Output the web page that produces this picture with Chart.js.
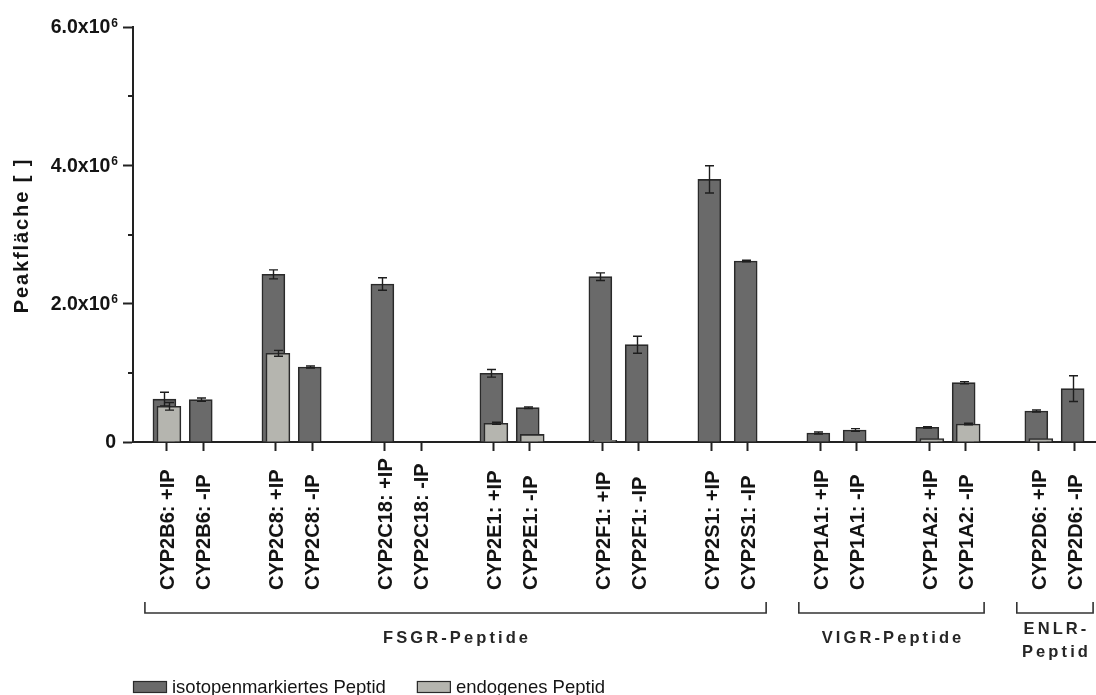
<!DOCTYPE html>
<html>
<head>
<meta charset="utf-8">
<script src="https://cdn.jsdelivr.net/npm/chart.js@4/dist/chart.umd.min.js"></script>
<style>
  html, body { margin: 0; padding: 0; background: #ffffff; }
  #wrap { position: relative; width: 1096px; height: 695px; }
</style>
</head>
<body>
<div id="wrap"><canvas id="chart"></canvas></div>
<script>
// Peak areas per cytochrome, with (+IP) and without (-IP) immunoprecipitation
const categories = [
  'CYP2B6: +IP', 'CYP2B6: -IP', 'CYP2C8: +IP', 'CYP2C8: -IP',
  'CYP2C18: +IP', 'CYP2C18: -IP', 'CYP2E1: +IP', 'CYP2E1: -IP',
  'CYP2F1: +IP', 'CYP2F1: -IP', 'CYP2S1: +IP', 'CYP2S1: -IP',
  'CYP1A1: +IP', 'CYP1A1: -IP', 'CYP1A2: +IP', 'CYP1A2: -IP',
  'CYP2D6: +IP', 'CYP2D6: -IP'
];
const isotopeValues = [620000, 612000, 2424000, 1084000, 2284000, null, 993000, 496000,
  2390000, 1407000, 3797000, 2617000, 130000, 173000, 212000, 858000, 448000, 771000];
const isotopeErrors = [100000, 25000, 65000, 15000, 90000, null, 55000, 12000,
  55000, 123000, 197000, 10000, 15000, 20000, 10000, 15000, 15000, 186000];
const endogenousValues = [516000, null, 1282000, null, null, null, 270000, 110000,
  25000, null, null, null, null, null, 48000, 260000, 48000, null];
const endogenousErrors = [55000, null, 43000, null, null, null, 15000, null,
  null, null, null, null, null, null, null, 12000, null, null];
const seriesLabels = ['isotopenmarkiertes Peptid', 'endogenes Peptid'];
const groupNames = ['FSGR-Peptide', 'VIGR-Peptide', 'ENLR-Peptid'];
const groupSizes = [12, 4, 2];
const yTickValues = [0, 2000000, 4000000, 6000000];
const yTickLabels = ['0', '2.0x10^6', '4.0x10^6', '6.0x10^6'];
const yMinorValues = [1000000, 3000000, 5000000];
const yTitle = 'Peakfläche [ ]';

const FONT = "'Liberation Sans', Arial, Helvetica, sans-serif";
const DARK = '#6a6a6a', LIGHT = '#b5b5af', EDGE = '#2a2a2a', INK = '#141414';

// each +IP/-IP pair sits side by side, pairs are separated by one empty slot
const slot = i => i + Math.floor(i / 2);
const xMin = -0.928, xMax = 25.58;
const darkShift = 0.063, lightShift = -0.061;

const toPoints = (vals, errs) => vals
  .map((v, i) => ({ x: slot(i), y: v, err: errs[i] }))
  .filter(p => p.y !== null);

function spacedWidth(ctx, text, sp) {
  let w = 0;
  for (const ch of text) w += ctx.measureText(ch).width;
  return w + sp * (text.length - 1);
}
function drawSpaced(ctx, text, cx, y, sp) {
  let x = cx - spacedWidth(ctx, text, sp) / 2;
  ctx.textAlign = 'left';
  for (const ch of text) { ctx.fillText(ch, x, y); x += ctx.measureText(ch).width + sp; }
}

// horizontal scale pinned to a fixed value window
const pinnedX = (shift, extra) => Object.assign({
  type: 'linear', min: xMin + shift, max: xMax + shift,
  offset: false, bounds: 'data',
  afterDataLimits: s => { s.min = xMin + shift; s.max = xMax + shift; },
  grid: { offset: false }
}, extra || {});

const errorBars = {
  id: 'errorBars',
  afterDatasetDraw(chart, args) {
    const pts = chart.data.datasets[args.index].data;
    const y = chart.scales.y, ctx = chart.ctx;
    ctx.save();
    ctx.strokeStyle = '#1e1e1e';
    ctx.lineWidth = 1.4;
    args.meta.data.forEach((el, j) => {
      const p = pts[j];
      if (!p || !p.err) return;
      const top = y.getPixelForValue(p.y + p.err);
      const bot = y.getPixelForValue(Math.max(0, p.y - p.err));
      const x = Math.round(el.x) + 0.5;
      ctx.beginPath();
      ctx.moveTo(x, top); ctx.lineTo(x, bot);
      ctx.moveTo(x - 4.5, top); ctx.lineTo(x + 4.5, top);
      ctx.moveTo(x - 4.5, bot); ctx.lineTo(x + 4.5, bot);
      ctx.stroke();
    });
    ctx.restore();
  }
};

const decorations = {
  id: 'decorations',
  afterDraw(chart) {
    const ctx = chart.ctx, xs = chart.scales.x, ys = chart.scales.y;
    const area = chart.chartArea;
    ctx.save();
    ctx.fillStyle = INK;

    // y tick labels with superscript exponent
    yTickValues.forEach((v, k) => {
      const py = ys.getPixelForValue(v);
      const [base, exp] = yTickLabels[k].split('^');
      const right = area.left - 15;
      let expW = 0;
      if (exp) {
        ctx.font = 'bold 12px ' + FONT;
        expW = ctx.measureText(exp).width;
        ctx.textAlign = 'right'; ctx.textBaseline = 'alphabetic';
        ctx.fillText(exp, right, py - 0.5);
      }
      ctx.font = 'bold 19.5px ' + FONT;
      ctx.textAlign = 'right'; ctx.textBaseline = 'middle';
      ctx.fillText(base, right - (exp ? expW + 1 : 2), py + 1);
    });

    // minor y ticks
    ctx.strokeStyle = '#222'; ctx.lineWidth = 2;
    yMinorValues.forEach(v => {
      const py = Math.round(ys.getPixelForValue(v));
      ctx.beginPath(); ctx.moveTo(area.left - 5, py); ctx.lineTo(area.left, py); ctx.stroke();
    });

    // y axis title
    ctx.save();
    ctx.translate(22, (area.top + area.bottom) / 2 + 2);
    ctx.rotate(-Math.PI / 2);
    ctx.font = 'bold 20px ' + FONT;
    ctx.textBaseline = 'middle';
    drawSpaced(ctx, yTitle, 0, 0, 1.9);
    ctx.restore();

    // rotated category labels, starting at a common baseline row
    ctx.font = 'bold 20px ' + FONT;
    ctx.textAlign = 'left'; ctx.textBaseline = 'alphabetic';
    categories.forEach((c, i) => {
      const px = xs.getPixelForValue(slot(i));
      ctx.save();
      ctx.translate(px + 7, area.bottom + 148);
      ctx.rotate(-Math.PI / 2);
      ctx.fillText(c, 0, 0);
      ctx.restore();
    });

    // group brackets and names
    const unit = xs.getPixelForValue(1) - xs.getPixelForValue(0);
    let start = 0;
    ctx.strokeStyle = '#333'; ctx.lineWidth = 1.6;
    groupNames.forEach((name, g) => {
      const end = start + groupSizes[g] - 1;
      const x1 = xs.getPixelForValue(slot(start)) - 0.6 * unit;
      const x2 = xs.getPixelForValue(slot(end)) + 0.5 * unit;
      const yb = area.bottom + 171, yt = area.bottom + 160;
      ctx.beginPath();
      ctx.moveTo(x1, yt); ctx.lineTo(x1, yb); ctx.lineTo(x2, yb); ctx.lineTo(x2, yt);
      ctx.stroke();
      ctx.font = 'bold 16.5px ' + FONT;
      ctx.fillStyle = '#262626';
      ctx.textBaseline = 'middle';
      const cx = (x1 + x2) / 2, sp = 3.1;
      if (spacedWidth(ctx, name, sp) > x2 - x1) {
        const cut = name.indexOf('-') + 1;
        drawSpaced(ctx, name.slice(0, cut), cx, area.bottom + 187, sp);
        drawSpaced(ctx, name.slice(cut), cx, area.bottom + 210, sp);
      } else {
        drawSpaced(ctx, name, cx, area.bottom + 196, sp);
      }
      start = end + 1;
    });

    // legend row
    let lx = area.left;
    ctx.font = '18.5px ' + FONT;
    ctx.textBaseline = 'alphabetic'; ctx.textAlign = 'left';
    chart.data.datasets.forEach(ds => {
      ctx.fillStyle = ds.backgroundColor;
      ctx.fillRect(lx, 681, 34, 12);
      ctx.strokeStyle = EDGE; ctx.lineWidth = 1.2;
      ctx.strokeRect(lx + 0.5, 681.5, 33, 11);
      ctx.fillStyle = INK;
      ctx.fillText(ds.label, lx + 39, 693);
      lx += 39 + ctx.measureText(ds.label).width + 31;
    });
    ctx.restore();
  }
};

new Chart(document.getElementById('chart'), {
  type: 'bar',
  data: {
    datasets: [
      {
        label: seriesLabels[0], data: toPoints(isotopeValues, isotopeErrors),
        xAxisID: 'xd', yAxisID: 'y', order: 1, grouped: false,
        backgroundColor: DARK, borderColor: EDGE, borderWidth: 1.6, barThickness: 23
      },
      {
        label: seriesLabels[1], data: toPoints(endogenousValues, endogenousErrors),
        xAxisID: 'xl', yAxisID: 'y', order: 0, grouped: false,
        backgroundColor: LIGHT, borderColor: EDGE, borderWidth: 1.6, barThickness: 24
      }
    ]
  },
  options: {
    responsive: true,
    maintainAspectRatio: false,
    animation: false,
    devicePixelRatio: 1,
    layout: { padding: { left: 0, right: 0, top: 27, bottom: 0 } },
    plugins: { legend: { display: false }, tooltip: { enabled: false } },
    scales: {
      x: pinnedX(0, {
        position: 'bottom',
        afterBuildTicks: s => { s.ticks = categories.map((c, i) => ({ value: slot(i) })); },
        afterFit: s => { s.height = 253; },
        ticks: { display: false },
        grid: { offset: false, drawOnChartArea: false, drawTicks: true, tickLength: 9, tickWidth: 2, tickColor: '#222' },
        border: { display: true, color: '#222', width: 2 }
      }),
      xd: pinnedX(darkShift, { display: false }),
      xl: pinnedX(lightShift, { display: false }),
      y: {
        type: 'linear', position: 'left', min: 0, max: 6000000,
        afterBuildTicks: s => { s.ticks = yTickValues.map(v => ({ value: v })); },
        afterFit: s => { s.width = 133; },
        ticks: { display: false },
        grid: { drawOnChartArea: false, drawTicks: true, tickLength: 10, tickWidth: 2, tickColor: '#222' },
        border: { display: true, color: '#222', width: 2 }
      }
    }
  },
  plugins: [errorBars, decorations]
});
</script>
</body>
</html>
